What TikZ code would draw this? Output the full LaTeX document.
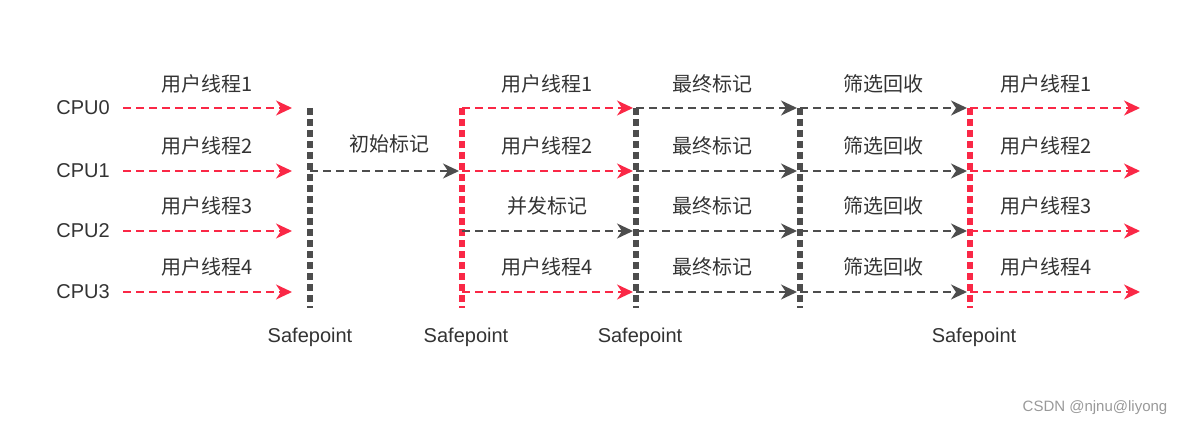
\documentclass[tikz,border=0pt]{standalone}
\usepackage{fontspec}
\setmainfont{Noto Sans CJK SC}
\newfontfamily\latinfont{Liberation Sans}
\usetikzlibrary{arrows.meta,calc}

\definecolor{cpured}{HTML}{FA2846}
\definecolor{cpugray}{HTML}{4D4D4D}
\definecolor{txtgray}{HTML}{333333}

\tikzset{
    thread/.style={draw=cpured, line width=2pt, dash pattern=on 8pt off 5pt,
        -{Stealth[length=16pt,width=15pt,inset=5pt]}},
    gcwork/.style={thread, draw=cpugray},
    safepoint/.style={line width=6pt, dash pattern=on 7pt off 4pt},
    lbl/.style={text=txtgray, inner sep=0pt, font=\fontsize{20}{20}\selectfont},
    cpu/.style={text=txtgray, inner sep=0pt, font=\latinfont\fontsize{20}{20}\selectfont},
}

\begin{document}
\begin{tikzpicture}[x=1pt,y=-1pt]
        \useasboundingbox (0,0) rectangle (1186,425);
        % grid of points: rows are the CPUs, columns the phases
        \foreach \r/\y in {0/108,1/171,2/231,3/292} {
            \coordinate (s\r) at (123,\y);
            \coordinate (t\r) at (292,\y);
            \coordinate (a\r) at (310,\y);
            \coordinate (b\r) at (462,\y);
            \coordinate (c\r) at (636,\y);
            \coordinate (d\r) at (800,\y);
            \coordinate (e\r) at (970,\y);
            \coordinate (f\r) at (1140,\y);
        }
        \foreach \c in {a,b,c,d,e}
            \coordinate (\c B) at ($(\c 3)+(0,16)$);

        % cpus
        \node[cpu] (cpu0) at (83,108) {CPU0};
        \node[cpu] (cpu1) at (83,171) {CPU1};
        \node[cpu] (cpu2) at (83,231) {CPU2};
        \node[cpu] (cpu3) at (83,292) {CPU3};

        % safepoints
        \draw[safepoint, cpugray] (a0) -- (aB);
        \draw[safepoint, cpured]  (b0) -- (bB);
        \draw[safepoint, cpugray] (c0) -- (cB);
        \draw[safepoint, cpugray] (d0) -- (dB);
        \draw[safepoint, cpured]  (e0) -- (eB);
        \node[cpu, below=20pt] (sp1) at (aB) {Safepoint};
        \node[cpu, below=20pt, xshift=4pt] (sp2) at (bB) {Safepoint};
        \node[cpu, below=20pt, xshift=4pt] (sp3) at (cB) {Safepoint};
        \node[cpu, below=20pt, xshift=4pt] (sp5) at (eB) {Safepoint};

        % user threads
        \foreach \r in {0,1,2,3} {
            \draw[thread] (s\r) -- (t\r);
            \draw[thread] (e\r) -- (f\r);
            \draw[gcwork, shorten >=3pt] (c\r) -- (d\r);
            \draw[gcwork, shorten >=3pt] (d\r) -- (e\r);
        }
        \draw[gcwork, shorten >=3pt] (a1) -- (b1);
        \draw[thread, shorten >=3pt] (b0) -- (c0);
        \draw[thread, shorten >=3pt] (b1) -- (c1);
        \draw[gcwork, shorten >=3pt] (b2) -- (c2);
        \draw[thread, shorten >=3pt] (b3) -- (c3);

        % labels
        \node[lbl] (u10) at (207,84)  {用户线程1};
        \node[lbl] (u11) at (207,146) {用户线程2};
        \node[lbl] (u12) at (207,206) {用户线程3};
        \node[lbl] (u13) at (207,267) {用户线程4};
        \node[lbl] (init) at (389,144) {初始标记};
        \node[lbl] (u20) at (547,84)  {用户线程1};
        \node[lbl] (u21) at (547,146) {用户线程2};
        \node[lbl] (conc) at (547,206) {并发标记};
        \node[lbl] (u23) at (547,267) {用户线程4};
        \foreach \r/\y in {0/84,1/146,2/206,3/267} {
            \node[lbl] (fin\r) at (712,\y) {最终标记};
            \node[lbl] (cln\r) at (883,\y) {筛选回收};
        }
        \node[lbl] (u50) at (1046,84)  {用户线程1};
        \node[lbl] (u51) at (1046,146) {用户线程2};
        \node[lbl] (u52) at (1046,206) {用户线程3};
        \node[lbl] (u53) at (1046,267) {用户线程4};

        \node[text=black!40, inner sep=0pt, font=\latinfont\fontsize{15}{15}\selectfont] (mark) at (1095,408) {CSDN @njnu@liyong};
    \end{tikzpicture}
\end{document}
